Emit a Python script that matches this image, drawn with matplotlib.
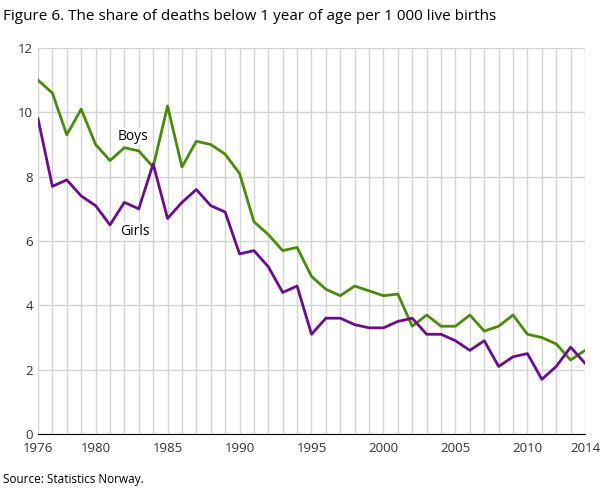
import matplotlib
matplotlib.use("Agg")
import matplotlib.pyplot as plt

plt.rcParams['font.family'] = ['Open Sans', 'DejaVu Sans']
years = list(range(1976, 2015))
boys = [11.0, 10.6, 9.3, 10.1, 9.0, 8.5, 8.9, 8.8, 8.3, 10.2, 8.3, 9.1, 9.0, 8.7, 8.1,
        6.6, 6.2, 5.7, 5.8, 4.9, 4.5, 4.3, 4.6, 4.45, 4.3, 4.35, 3.35, 3.7, 3.35, 3.35,
        3.7, 3.2, 3.35, 3.7, 3.1, 3.0, 2.8, 2.3, 2.6]
girls = [9.8, 7.7, 7.9, 7.4, 7.1, 6.5, 7.2, 7.0, 8.4, 6.7, 7.2, 7.6, 7.1, 6.9, 5.6,
         5.7, 5.2, 4.4, 4.6, 3.1, 3.6, 3.6, 3.4, 3.3, 3.3, 3.5, 3.6, 3.1, 3.1, 2.9,
         2.6, 2.9, 2.1, 2.4, 2.5, 1.7, 2.1, 2.7, 2.2]
xticks = [1976, 1980, 1985, 1990, 1995, 2000, 2005, 2010, 2014]

fig = plt.figure(figsize=(6.08, 4.88), dpi=100)
ax = fig.add_axes([38/608, 54/488, 547/608, 386/488])
ax.plot(years, boys, color='#4a8a0c', lw=2)
ax.plot(years, girls, color='#6a0d8c', lw=2)
ax.set_xlim(1976, 2014)
ax.set_ylim(0, 12)
ax.set_yticks(range(0, 13, 2))
ax.set_xticks(xticks)
ax.set_xticks(years, minor=True)
ax.grid(True, which='both', color='#d4d4d4', lw=1)
ax.set_axisbelow(True)
for s in ax.spines.values():
    s.set_visible(False)
ax.spines['bottom'].set_visible(True)
ax.spines['bottom'].set_color('#000000')
ax.tick_params(which='both', length=0, labelsize=9.5, colors='#333333')
ax.tick_params(axis='x', pad=6)
ax.text(1982.6, 9.25, 'Boys', fontsize=10, ha='center', va='center',
        bbox=dict(fc='white', ec='none', pad=1))
ax.text(1982.7, 6.3, 'Girls', fontsize=10, ha='center', va='center',
        bbox=dict(fc='white', ec='none', pad=1))
fig.text(3/608, 1 - 16/488, 'Figure 6. The share of deaths below 1 year of age per 1 000 live births',
         fontsize=11, va='center', ha='left')
fig.text(3/608, 1 - 479/488, 'Source: Statistics Norway.', fontsize=8.5, va='center', ha='left')
fig.savefig('out.png', dpi=100)
